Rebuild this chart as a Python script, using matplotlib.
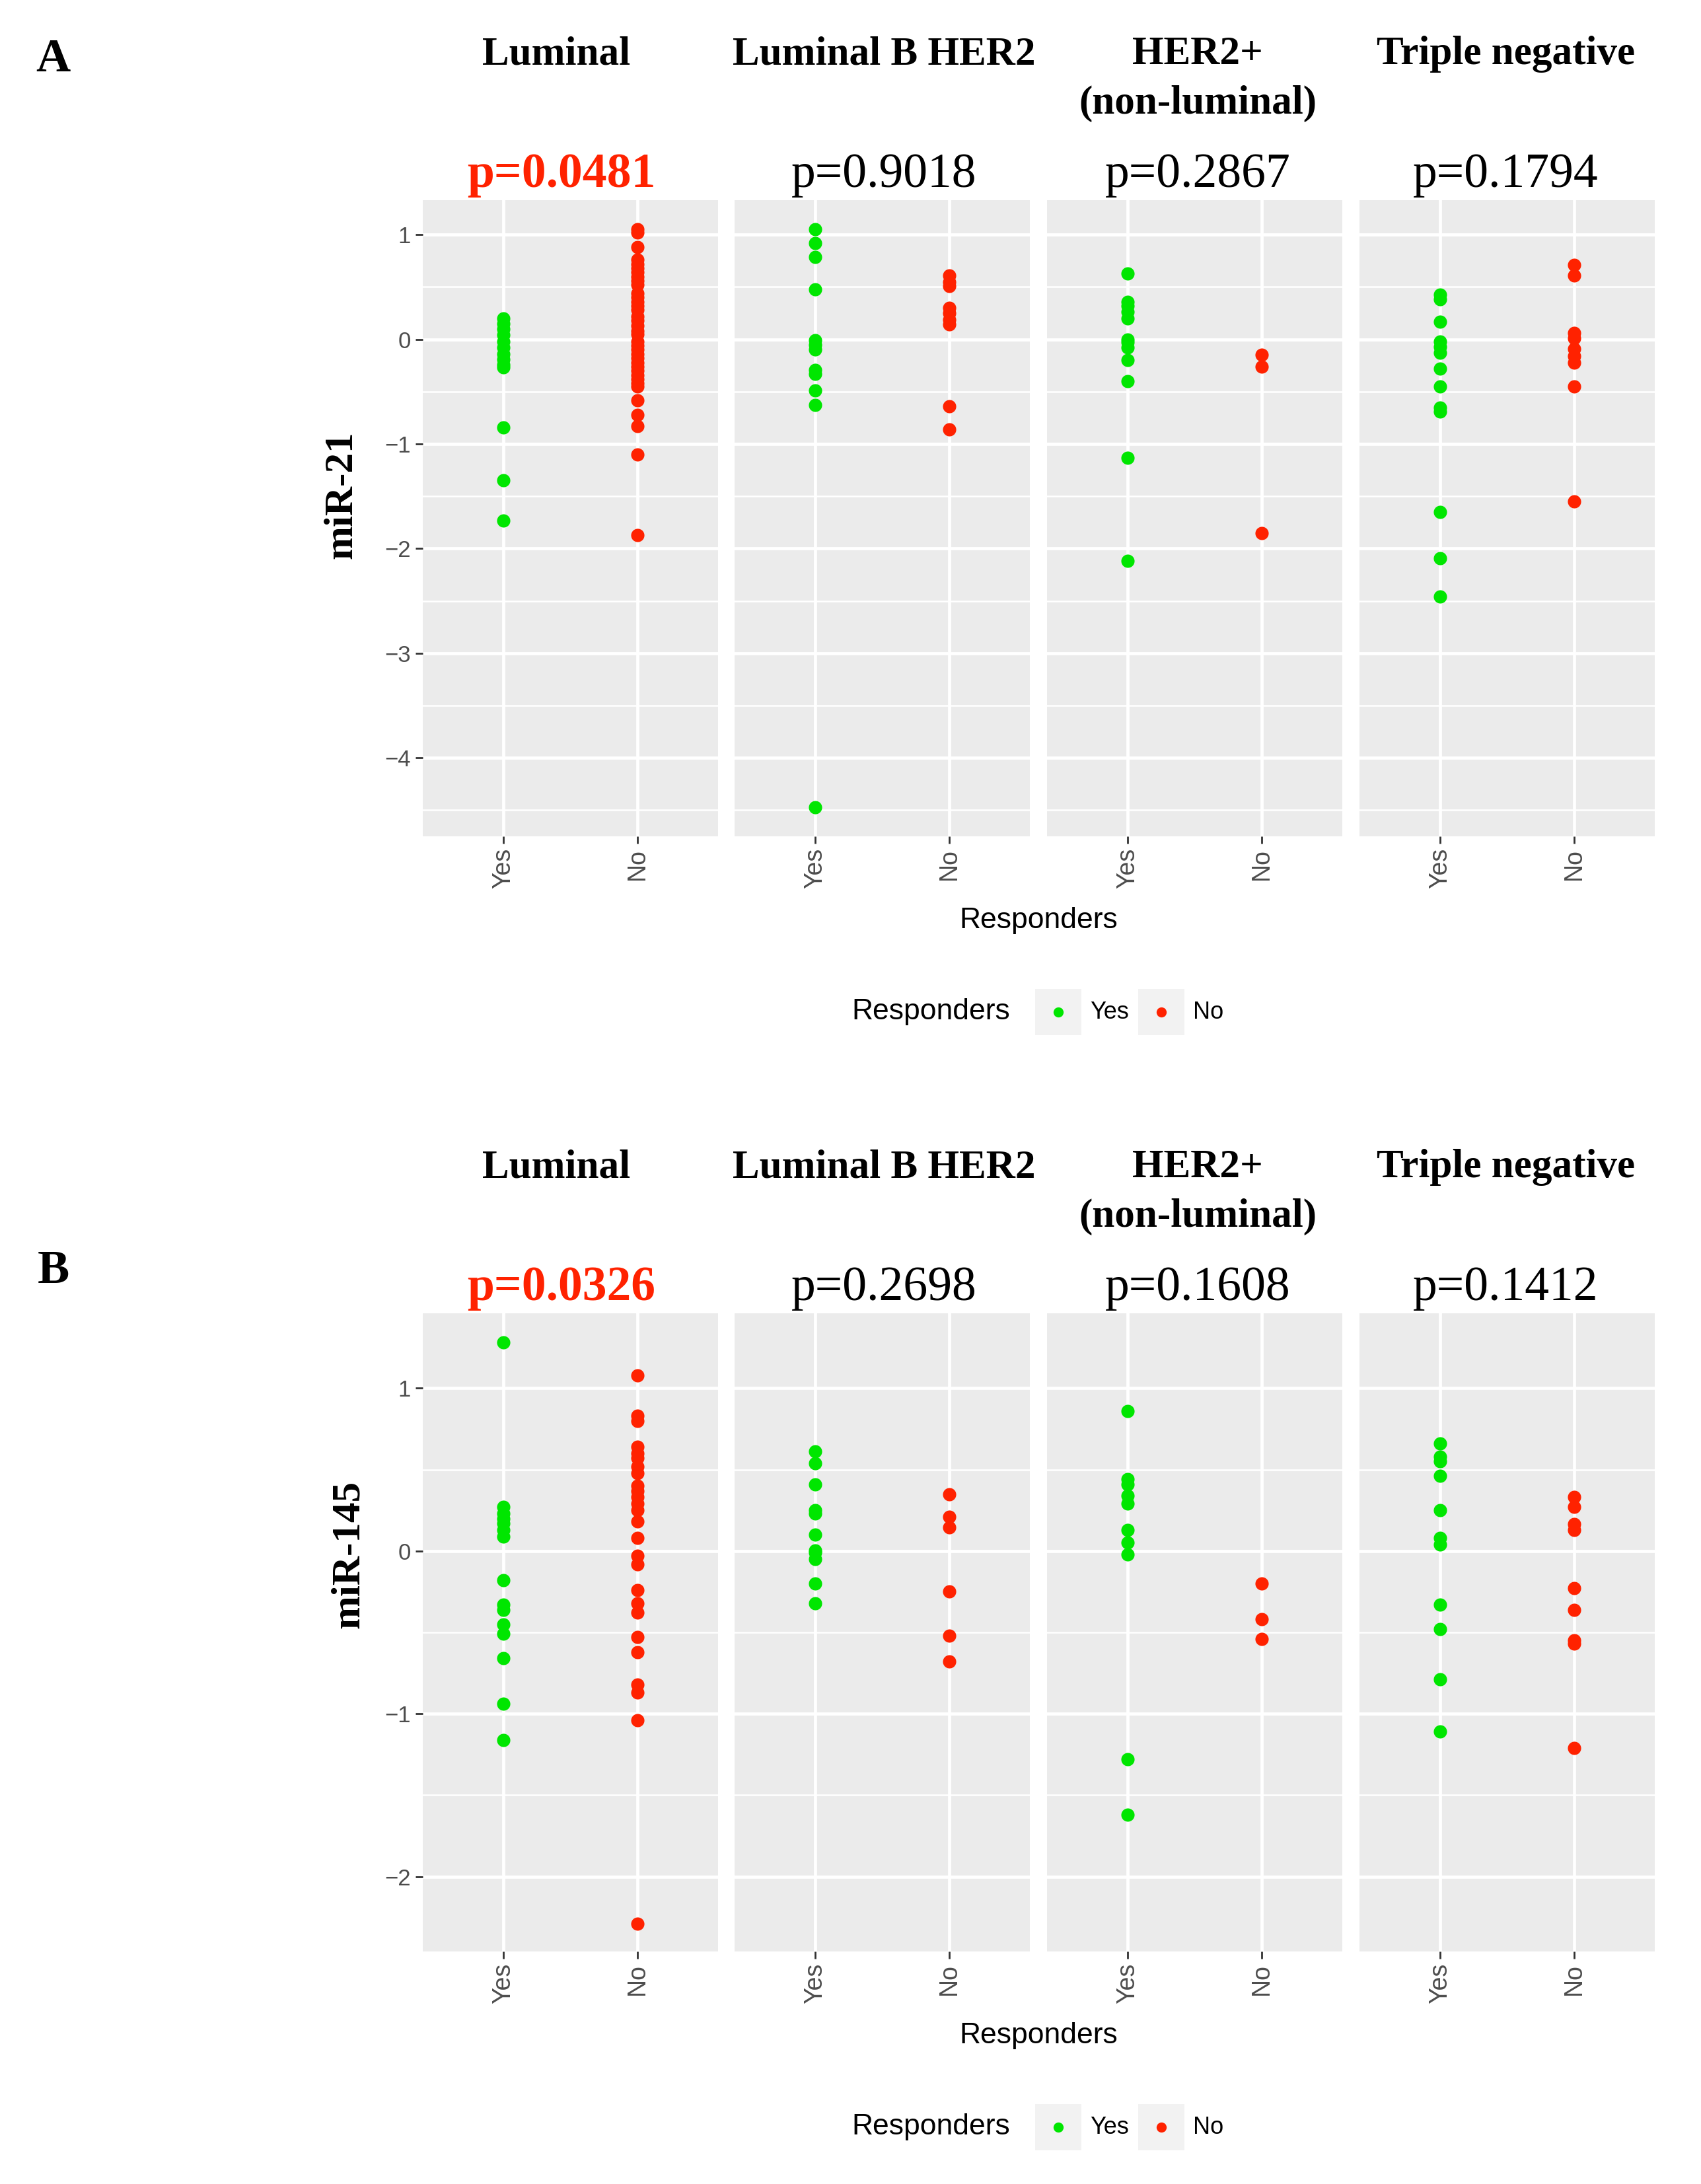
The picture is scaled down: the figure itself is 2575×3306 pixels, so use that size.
import matplotlib.pyplot as plt
import matplotlib.patches as patches
from matplotlib.lines import Line2D

# subtypes and groups
subtypes = ["Luminal", "Luminal B HER2", "HER2+\n(non-luminal)", "Triple negative"]
groups = ["Yes", "No"]

# p-values per subtype
p_mir21 = [0.0481, 0.9018, 0.2867, 0.1794]
p_mir145 = [0.0326, 0.2698, 0.1608, 0.1412]

# miR-21 values
mir21_lum_yes = [0.20, 0.15, 0.10, 0.04, -0.02, -0.08, -0.14, -0.19, -0.24, -0.27, -0.84, -1.35, -1.73]
mir21_lum_no = [1.05, 1.02, 0.88, 0.76, 0.72, 0.68, 0.64, 0.60, 0.56, 0.52, 0.44, 0.40, 0.36,
                0.32, 0.28, 0.22, 0.18, 0.13, 0.08, 0.05, -0.02, -0.06, -0.10, -0.14, -0.18,
                -0.22, -0.26, -0.30, -0.34, -0.38, -0.42, -0.45, -0.58, -0.72, -0.83, -1.10, -1.87]
mir21_lbh_yes = [1.05, 0.92, 0.79, 0.48, -0.01, -0.05, -0.10, -0.29, -0.33, -0.49, -0.63, -4.47]
mir21_lbh_no = [0.61, 0.55, 0.51, 0.30, 0.25, 0.19, 0.14, -0.64, -0.86]
mir21_her2_yes = [0.63, 0.36, 0.32, 0.26, 0.20, 0.00, -0.03, -0.08, -0.20, -0.40, -1.13, -2.12]
mir21_her2_no = [-0.15, -0.26, -1.85]
mir21_tn_yes = [0.43, 0.38, 0.17, -0.02, -0.07, -0.13, -0.28, -0.45, -0.65, -0.69, -1.65, -2.09, -2.46]
mir21_tn_no = [0.71, 0.61, 0.06, 0.01, -0.09, -0.16, -0.22, -0.45, -1.55]

# miR-145 values
mir145_lum_yes = [1.28, 0.27, 0.23, 0.20, 0.17, 0.13, 0.09, -0.18, -0.33, -0.36, -0.45, -0.51,
                  -0.66, -0.94, -1.16]
mir145_lum_no = [1.08, 0.83, 0.80, 0.64, 0.60, 0.57, 0.52, 0.48, 0.40, 0.37, 0.33, 0.29, 0.25,
                 0.18, 0.08, -0.03, -0.08, -0.24, -0.32, -0.38, -0.53, -0.62, -0.82, -0.87,
                 -1.04, -2.29]
mir145_lbh_yes = [0.61, 0.54, 0.41, 0.25, 0.23, 0.10, 0.005, -0.01, -0.05, -0.20, -0.32]
mir145_lbh_no = [0.35, 0.21, 0.145, -0.25, -0.52, -0.68]
mir145_her2_yes = [0.86, 0.44, 0.41, 0.34, 0.29, 0.13, 0.05, -0.02, -1.28, -1.62]
mir145_her2_no = [-0.20, -0.42, -0.54]
mir145_tn_yes = [0.66, 0.58, 0.55, 0.46, 0.25, 0.08, 0.04, -0.33, -0.48, -0.79, -1.11]
mir145_tn_no = [0.33, 0.27, 0.165, 0.13, -0.23, -0.36, -0.55, -0.57, -1.21]

mir21 = [(mir21_lum_yes, mir21_lum_no), (mir21_lbh_yes, mir21_lbh_no),
         (mir21_her2_yes, mir21_her2_no), (mir21_tn_yes, mir21_tn_no)]
mir145 = [(mir145_lum_yes, mir145_lum_no), (mir145_lbh_yes, mir145_lbh_no),
          (mir145_her2_yes, mir145_her2_no), (mir145_tn_yes, mir145_tn_no)]

GREEN = '#00E600'
RED = '#FF2200'
BG = '#EBEBEB'

W, H = 2575, 3306
fig = plt.figure(figsize=(W / 100, H / 100), dpi=100)


def fx(px):
    return px / W


def fy(py):
    return 1 - py / H


serif = 'Liberation Serif'
sans = 'Liberation Sans'

panel_left = [640, 1112, 1585, 2058]
panel_w = 447
title_x = [842, 1338, 1813, 2280]
pval_x = [850, 1338, 1813, 2279]


def draw_block(top, bottom, data, pvals, ylabel, ylab_pos, letter, letter_pos, yticks, ylim):
    for i, (yes, no) in enumerate(data):
        ax = fig.add_axes([fx(panel_left[i]), fy(bottom), panel_w / W, (bottom - top) / H])
        ax.set_facecolor(BG)
        ax.scatter([0] * len(yes), yes, s=210, color=GREEN, linewidths=0, zorder=3)
        ax.scatter([1] * len(no), no, s=210, color=RED, linewidths=0, zorder=3)
        ax.set_xticks([0, 1])
        ax.set_xticklabels(groups, rotation=90, fontsize=27, color='#4D4D4D', family=sans)
        ax.set_yticks(yticks)
        ax.set_yticks([t + 0.5 for t in yticks[:-1]] + [yticks[0] - 0.5, yticks[-1] + 0.5], minor=True)
        ax.set_xlim(-0.6, 1.6)
        ax.set_ylim(*ylim)
        ax.grid(which='major', color='white', linewidth=3.4)
        ax.grid(which='minor', axis='y', color='white', linewidth=1.8)
        ax.set_axisbelow(True)
        ax.tick_params(which='minor', length=0)
        ax.tick_params(which='major', length=8, width=2, color='#333333', pad=5)
        for sp in ax.spines.values():
            sp.set_visible(False)
        if i == 0:
            ax.set_yticklabels([str(t).replace('-', '\u2212') for t in yticks],
                               fontsize=25, color='#4D4D4D', family=sans)
        else:
            ax.tick_params(axis='y', left=False, labelleft=False)

        # strip titles
        for j, line in enumerate(subtypes[i].split('\n')):
            fig.text(fx(title_x[i]), fy(top - 206 + j * 75), line, ha='center', va='baseline',
                     fontsize=44, fontweight='bold', family=serif)
        p = pvals[i]
        sig = p < 0.05
        fig.text(fx(pval_x[i]), fy(top - 20), f"p={p:.4f}", ha='center', va='baseline',
                 fontsize=53, fontweight='bold' if sig else 'normal',
                 color=RED if sig else 'black', family=serif)

    fig.text(fx(ylab_pos[0]), fy(ylab_pos[1]), ylabel, rotation=90, ha='center', va='center',
             fontsize=44, fontweight='bold', family=serif)
    fig.text(fx(letter_pos[0]), fy(letter_pos[1]), letter, ha='left', va='baseline',
             fontsize=52, fontweight='bold', family=serif)

    # x axis title
    fig.text(fx(1572), fy(bottom + 127), "Responders", ha='center', va='center',
             fontsize=32, family=sans, color='black')

    # legend
    ly = bottom + 266
    fig.text(fx(1289), fy(ly), "Responders", ha='left', va='center', fontsize=32, family=sans)
    for k, (lab, col, bx) in enumerate([("Yes", GREEN, 1567), ("No", RED, 1723)]):
        fig.add_artist(patches.Rectangle((fx(bx), fy(ly + 35)), 70 / W, 70 / H,
                                         transform=fig.transFigure, facecolor='#F2F2F2',
                                         edgecolor='none'))
        fig.add_artist(Line2D([fx(bx + 35)], [fy(ly)], marker='o', markersize=11,
                              markerfacecolor=col, markeredgewidth=0, linestyle='none',
                              transform=fig.transFigure))
        fig.text(fx(bx + 83), fy(ly), lab, ha='left', va='center', fontsize=26, family=sans)


draw_block(303, 1266, mir21, p_mir21, "miR-21", (517, 749), "A", (54, 108),
           [-4, -3, -2, -1, 0, 1], (-4.75, 1.33))
draw_block(1988, 2954, mir145, p_mir145, "miR-145", (528, 2353), "B", (57, 1942),
           [-2, -1, 0, 1], (-2.46, 1.46))

fig.savefig('out.png', dpi=100, facecolor='white')
